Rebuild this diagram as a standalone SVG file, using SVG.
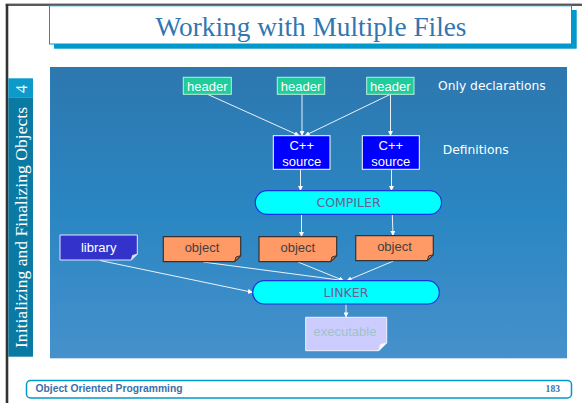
<svg xmlns="http://www.w3.org/2000/svg" width="582" height="403" viewBox="0 0 582 403">
<defs>
<linearGradient id="bg" x1="0" y1="0" x2="0" y2="1">
<stop offset="0" stop-color="#2e77af"/>
<stop offset="0.5" stop-color="#2a86c2"/>
<stop offset="1" stop-color="#4691cc"/>
</linearGradient>
<marker id="arr" viewBox="0 0 6 6" refX="5.5" refY="3" markerWidth="5" markerHeight="5" markerUnits="userSpaceOnUse" orient="auto">
<path d="M0,0 L6,3 L0,6 z" fill="#ffffff"/>
</marker>
<style>
.hdr{fill:#1fcc9a;stroke:#b8f2de;stroke-width:1}
.src{fill:#0000ff;stroke:#ffffff;stroke-width:1}
.pill{fill:#00ffff;stroke:#1a33e0;stroke-width:1.2}
.obj{fill:#ff9966;stroke:#333333;stroke-width:1.2}
.objf{fill:#d98060;stroke:#333333;stroke-width:1}
.lib{fill:#3333cc;stroke:#e6e6ff;stroke-width:1}
.libf{fill:#e6e6ff;stroke:#e6e6ff;stroke-width:0.8}
.exe{fill:#ccccff;stroke:#f2f2ff;stroke-width:1}
.exef{fill:#ffffff;stroke:#f2f2ff;stroke-width:0.8}
.t{font-family:"Liberation Sans",Arial,sans-serif;font-size:13px;text-anchor:middle}
.w{fill:#ffffff}
.cs{font-family:"DejaVu Sans",sans-serif;font-size:12.5px;fill:#6b5e91;text-anchor:middle}
.note{font-family:"DejaVu Sans",sans-serif;font-size:12.3px;fill:#ffffff}
.conn line{stroke:#ffffff;stroke-width:0.9;marker-end:url(#arr)}
</style>
</defs>
<rect width="582" height="403" fill="#ffffff"/>
<!-- slide frame -->
<rect x="5.7" y="3.2" width="577" height="1.1" fill="#aaaaaa"/>
<rect x="5.7" y="4.2" width="577" height="1.6" fill="#333333"/>
<rect x="5.7" y="4.2" width="2.6" height="399" fill="#333333"/>
<!-- title -->
<g id="title">
<rect x="54" y="10" width="522.7" height="38.7" fill="#0099cc"/>
<rect x="49.5" y="5.8" width="522" height="38.2" fill="#ffffff" stroke="#0099cc" stroke-width="1"/>
<text x="311" y="36" font-family="Liberation Serif,'Times New Roman',serif" font-size="27.3" fill="#3176b0" text-anchor="middle">Working with Multiple Files</text>
</g>
<!-- sidebar -->
<g id="sidebar">
<rect x="8.3" y="78.3" width="24.7" height="19" fill="#0c9acb"/>
<rect x="8.3" y="97.3" width="24.7" height="259.4" fill="#0b7aa3"/>
<text transform="translate(27,89) rotate(-90)" font-family="Liberation Serif,'Times New Roman',serif" font-size="16" fill="#ffffff" text-anchor="middle">4</text>
<text transform="translate(27,348) rotate(-90)" font-family="Liberation Serif,'Times New Roman',serif" font-size="17.6" fill="#ffffff" textLength="241" lengthAdjust="spacingAndGlyphs">Initializing and Finalizing Objects</text>
</g>
<!-- diagram background -->
<rect x="50" y="67" width="517" height="291.3" fill="url(#bg)"/>
<!-- connectors -->
<g id="connectors" class="conn">
<line x1="208" y1="94.5" x2="299" y2="135.5"/>
<line x1="302" y1="94.5" x2="302" y2="135.5"/>
<line x1="390" y1="94.5" x2="305" y2="135.5"/>
<line x1="390.5" y1="94.5" x2="390.5" y2="135.5"/>
<line x1="300.5" y1="169.5" x2="300.5" y2="190.5"/>
<line x1="391.5" y1="169.5" x2="391.5" y2="190.5"/>
<line x1="301.5" y1="214.5" x2="301.5" y2="236.5"/>
<line x1="392.3" y1="214.5" x2="393" y2="235.5"/>
<line x1="203" y1="262" x2="343" y2="280.5"/>
<line x1="298" y1="262" x2="343.5" y2="280.5"/>
<line x1="393.5" y1="261" x2="347" y2="280.5"/>
<line x1="100" y1="260.5" x2="252.5" y2="292.3"/>
<line x1="346" y1="304.5" x2="346" y2="317"/>
</g>
<!-- headers -->
<g id="header1"><rect class="hdr" x="183.3" y="77.3" width="48" height="17"/><text class="t w" x="207.3" y="91.3">header</text></g>
<g id="header2"><rect class="hdr" x="277.3" y="77.3" width="47.4" height="17"/><text class="t w" x="301" y="91.3">header</text></g>
<g id="header3"><rect class="hdr" x="366.7" y="77.3" width="47.3" height="17"/><text class="t w" x="390.3" y="91.3">header</text></g>
<!-- sources -->
<g id="source1"><rect class="src" x="273.3" y="135.7" width="56.7" height="33.6"/><text class="t w" x="301.7" y="150">C++</text><text class="t w" x="301.7" y="166">source</text></g>
<g id="source2"><rect class="src" x="362.3" y="135.7" width="57" height="33.6"/><text class="t w" x="390.8" y="150">C++</text><text class="t w" x="390.8" y="166">source</text></g>
<!-- compiler -->
<g id="compiler"><rect class="pill" x="255.3" y="190.7" width="186.2" height="23.6" rx="11.8"/><text class="cs" x="348.5" y="206.7">COMPILER</text></g>
<!-- library -->
<g id="library"><path class="lib" d="M60,235 H137.3 V254 L131.3,260 H60 Z"/><path class="libf" d="M131.3,260 L137.3,254 L132.5,255.5 Z"/><text class="t w" x="98.7" y="252">library</text></g>
<!-- objects -->
<g id="object1"><path class="obj" d="M163.3,236.7 H240.7 V255.7 L234.7,261.7 H163.3 Z"/><path class="objf" d="M234.7,261.7 L240.7,255.7 L236,257 Z"/><text class="t" fill="#45403f" x="202" y="252">object</text></g>
<g id="object2"><path class="obj" d="M259,236.7 H336.7 V255.7 L330.7,261.7 H259 Z"/><path class="objf" d="M330.7,261.7 L336.7,255.7 L332,257 Z"/><text class="t" fill="#45403f" x="297.8" y="252">object</text></g>
<g id="object3"><path class="obj" d="M355.7,235.7 H433.3 V254.7 L427.3,260.7 H355.7 Z"/><path class="objf" d="M427.3,260.7 L433.3,254.7 L428.6,256 Z"/><text class="t" fill="#45403f" x="394.5" y="251">object</text></g>
<!-- linker -->
<g id="linker"><rect class="pill" x="252.7" y="280.7" width="186.6" height="23.3" rx="11.6"/><text class="cs" x="346" y="297.3">LINKER</text></g>
<!-- executable -->
<g id="executable"><path class="exe" d="M305.7,317.3 H386.7 V342.7 L378.7,350.7 H305.7 Z"/><path class="exef" d="M378.7,350.7 L386.7,342.7 L380.5,344.5 Z"/><text class="t" fill="#9fc3c6" x="345" y="336">executable</text></g>
<!-- notes -->
<text class="note" x="438" y="90">Only declarations</text>
<text class="note" x="442.7" y="154">Definitions</text>
<!-- footer -->
<g id="footer">
<rect x="26.5" y="380.5" width="545" height="17.5" rx="4" fill="#ffffff" stroke="#0099cc" stroke-width="1.5"/>
<text x="35.5" y="392.3" font-family="Liberation Sans,Arial,sans-serif" font-weight="bold" font-size="10.3" fill="#3a6fa8">Object Oriented Programming</text>
<text x="560" y="392" font-family="Liberation Serif,'Times New Roman',serif" font-weight="bold" font-size="9.6" fill="#3a6fa8" text-anchor="end">183</text>
</g>
</svg>
